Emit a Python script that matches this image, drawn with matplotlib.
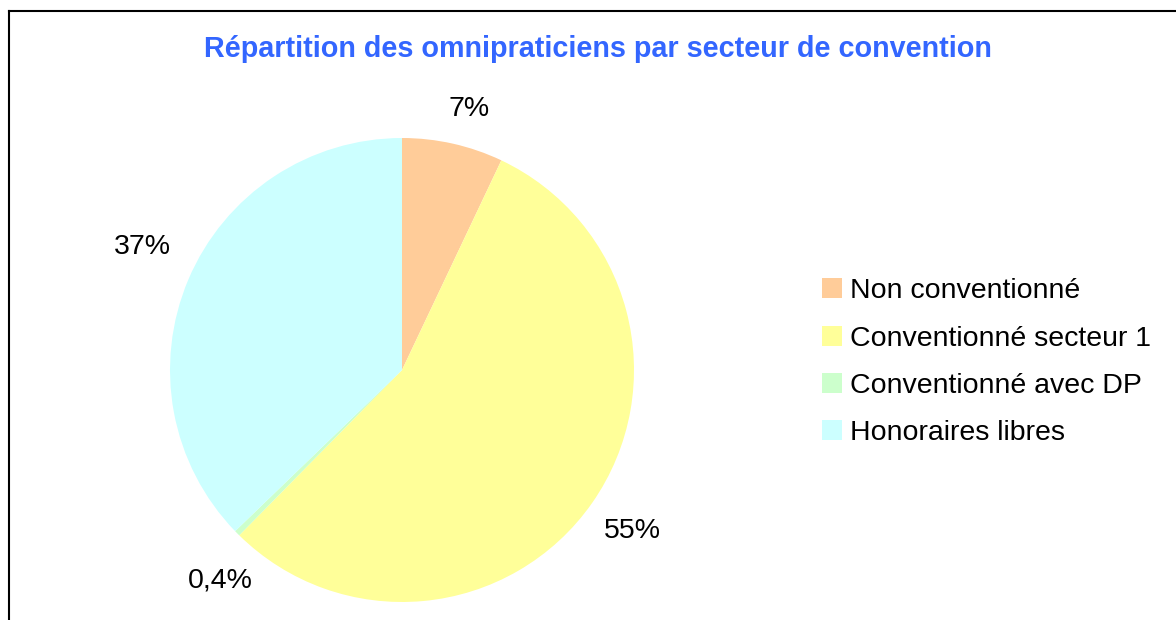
import matplotlib
matplotlib.use("Agg")
import matplotlib.pyplot as plt
from matplotlib.lines import Line2D
import numpy as np

plt.rcParams["font.family"] = ["Liberation Sans", "DejaVu Sans"]

# ---- data ----
categories = ["Non conventionné", "Conventionné secteur 1",
              "Conventionné avec DP", "Honoraires libres"]
shares = [7, 55, 0.4, 37]
pct_labels = ["7%", "55%", "0,4%", "37%"]
colors = ["#FFCC99", "#FFFF99", "#CCFFCC", "#CCFFFF"]

W, H = 1176, 620
fig = plt.figure(figsize=(W / 100, H / 100), dpi=100)

# frame (top/left edges visible, right/bottom run off the image)
fig.add_artist(Line2D([9 / W, 9 / W], [0, 1 - 11 / H], color="black", lw=1.5))
fig.add_artist(Line2D([9 / W, 1], [1 - 11 / H, 1 - 11 / H], color="black", lw=1.5))

fig.text(598 / W, 1 - 49 / H, "Répartition des omnipraticiens par secteur de convention",
         ha="center", va="center", fontsize=20.7, fontweight="bold", color="#3366FF")

# pie axes placed in pixels: centre (402, 370), radius 232
cx, cy, r = 402, 370, 232
ax = fig.add_axes([(cx - r) / W, (H - cy - r) / H, 2 * r / W, 2 * r / H])
wedges, _ = ax.pie(shares, colors=colors, startangle=90, counterclock=False,
                   radius=1, wedgeprops=dict(linewidth=0))
ax.set_xlim(-1, 1)
ax.set_ylim(-1, 1)
ax.set_aspect("equal")
ax.axis("off")

# percentage labels outside each wedge
label_dist = [1.16, 1.21, 1.20, 1.24]
label_shift = [-1.8, 0, 4.5, -2.3]  # degrees
for w, txt, d, s in zip(wedges, pct_labels, label_dist, label_shift):
    ang = np.deg2rad((w.theta1 + w.theta2) / 2 + s)
    ax.text(d * np.cos(ang), d * np.sin(ang), txt, ha="center", va="center",
            fontsize=20.5, color="black", clip_on=False)

leg = fig.legend(wedges, categories, loc="upper left",
                 bbox_to_anchor=(808 / W, 1 - 264 / H), frameon=False,
                 fontsize=20.5, handlelength=0.70, handleheight=0.70,
                 handletextpad=0.28, labelspacing=0.75, borderpad=0)

fig.savefig("out.png", dpi=100)
